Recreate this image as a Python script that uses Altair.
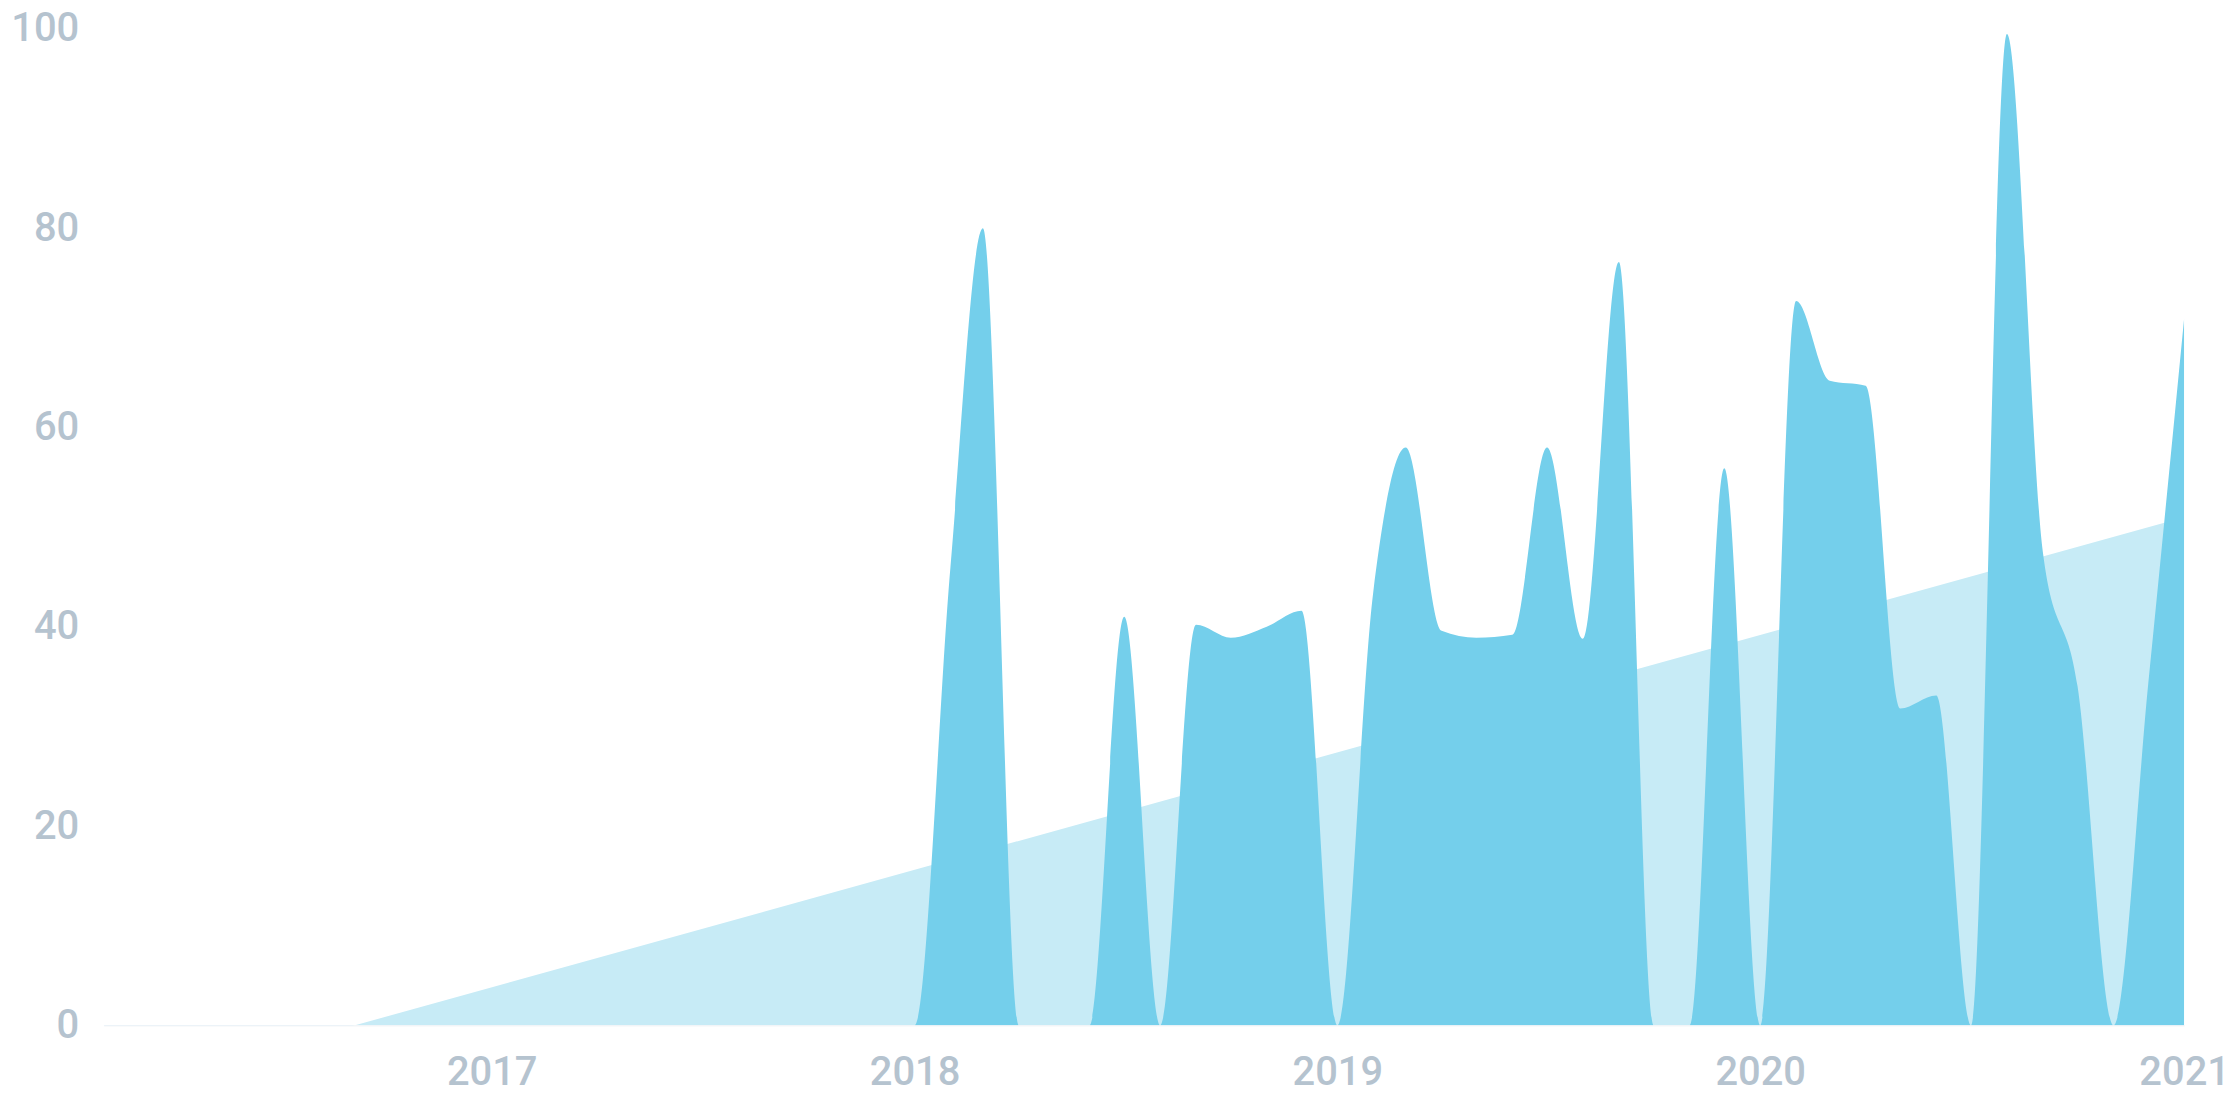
import altair as alt
import pandas as pd

# Monthly activity series (first day of each month)
months = [
    "2016-02-01", "2016-03-01", "2016-04-01", "2016-05-01", "2016-06-01", "2016-07-01",
    "2016-08-01", "2016-09-01", "2016-10-01", "2016-11-01", "2016-12-01",
    "2017-01-01", "2017-02-01", "2017-03-01", "2017-04-01", "2017-05-01", "2017-06-01",
    "2017-07-01", "2017-08-01", "2017-09-01", "2017-10-01", "2017-11-01", "2017-12-01",
    "2018-01-01", "2018-02-01", "2018-03-01", "2018-04-01", "2018-05-01", "2018-06-01",
    "2018-07-01", "2018-08-01", "2018-09-01", "2018-10-01", "2018-11-01", "2018-12-01",
    "2019-01-01", "2019-02-01", "2019-03-01", "2019-04-01", "2019-05-01", "2019-06-01",
    "2019-07-01", "2019-08-01", "2019-09-01", "2019-10-01", "2019-11-01", "2019-12-01",
    "2020-01-01", "2020-02-01", "2020-03-01", "2020-04-01", "2020-05-01", "2020-06-01",
    "2020-07-01", "2020-08-01", "2020-09-01", "2020-10-01", "2020-11-01", "2020-12-01",
    "2021-01-01",
]
activity = [
    0, 0, 0, 0, 0, 0,
    0, 0, 0, 0, 0,
    0, 0, 0, 0, 0, 0,
    0, 0, 0, 0, 0, 0,
    0, 46.0, 80.0, 0, 0, 0,
    41.0, 0, 40.2, 38.9, 40.0, 41.6,
    0, 43.5, 58.0, 39.6, 38.9, 39.2,
    58.0, 38.8, 76.6, 0, 0, 55.9,
    0, 72.7, 64.7, 64.2, 31.8, 33.1,
    0, 99.5, 47.5, 34.0, 0, 34.3,
    71.0,
]

# Linear trend (drawn as light area, clipped at zero)
trend_dates = ["2016-02-01", "2021-01-01"]
trend_values = [-7.0, 51.0]

year_ticks = [2017, 2018, 2019, 2020, 2021]
y_ticks = [0, 20, 40, 60, 80, 100]

series_df = pd.DataFrame({"date": months, "value": activity})
trend_df = pd.DataFrame({"date": trend_dates, "value": trend_values})

label_color = "#b5c3cf"
font = "Roboto"

x_scale = alt.Scale(
    type="utc",
    domain=[alt.DateTime(year=2016, month=2, date=1, utc=True),
            alt.DateTime(year=2021, month=1, date=1, utc=True)],
)
y_scale = alt.Scale(domain=[0, 100], nice=False)

x_axis = alt.Axis(
    title=None,
    values=[alt.DateTime(year=y, month=1, date=1, utc=True) for y in year_ticks],
    format="%Y",
    formatType="utc",
    grid=False,
    ticks=False,
    tickSize=0,
    domain=True,
    domainColor="#eef1f4",
    domainWidth=1,
    labelFlush=False,
    labelPadding=27,
    labelFont=font,
    labelFontSize=40,
    labelFontWeight=500,
    labelColor=label_color,
    labelBaseline="top",
)
y_axis = alt.Axis(
    title=None,
    values=y_ticks,
    grid=False,
    ticks=False,
    tickSize=0,
    domain=False,
    labelPadding=25,
    labelFont=font,
    labelFontSize=40,
    labelFontWeight=500,
    labelColor=label_color,
    labelBaseline="middle",
)

trend = alt.Chart(trend_df).mark_area(color="#c7ebf6", clip=True).encode(
    x=alt.X("date:T", scale=x_scale, axis=x_axis),
    y=alt.Y("value:Q", scale=y_scale, axis=y_axis),
)

series = alt.Chart(series_df).mark_area(
    color="#74cfeb", interpolate="monotone", clip=True
).encode(
    x=alt.X("date:T", scale=x_scale, axis=x_axis),
    y=alt.Y("value:Q", scale=y_scale, axis=y_axis),
)

chart = alt.layer(trend, series).properties(
    width=2088,
    height=1000,
    autosize=alt.AutoSizeParams(type="none"),
    padding={"left": 96, "top": 19, "right": 48, "bottom": 92},
    background="white",
).configure_view(stroke=None)

chart.save("out.html", embed_options={"renderer": "svg", "actions": False})
